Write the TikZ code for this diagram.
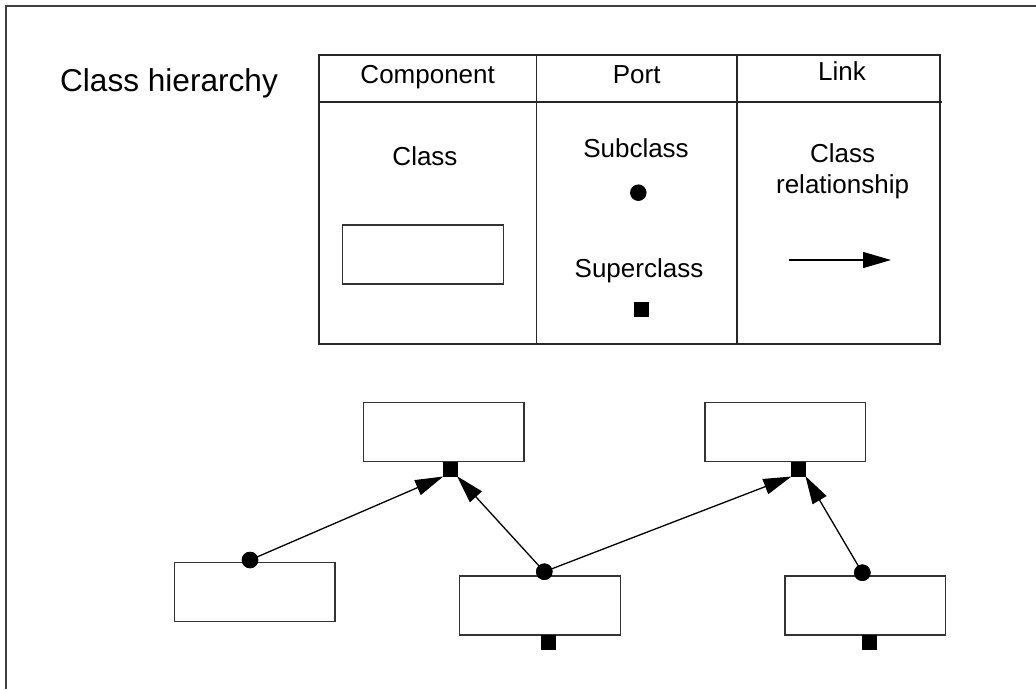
\documentclass[tikz,border=0pt]{standalone}
\usepackage{fontspec}
\setmainfont{Liberation Sans}
\usetikzlibrary{arrows.meta}

\tikzset{
  framepen/.style={draw=black!75, line width=1.6pt},
  tablepen/.style={draw=black!85, line width=1.6pt},
  label/.style={anchor=base, inner sep=0pt, font=\fontsize{26}{30.6}\selectfont},
  title/.style={anchor=base, inner sep=0pt, font=\fontsize{31.6}{36}\selectfont},
  classbox/.style={draw=black!80, line width=1.5pt, fill=white,
    minimum width=160.7pt, minimum height=59pt, inner sep=0pt},
  superport/.style={fill=black, inner sep=0pt, minimum size=15pt},
  subport/.style={circle, fill=black, inner sep=0pt, minimum size=16.5pt},
  link/.style={draw=black, line width=1.3pt,
    -{Triangle[length=28pt, width=16pt]}, shorten >=-1pt}
}

\begin{document}
\begin{tikzpicture}[x=1pt, y=-1pt]
  \useasboundingbox (0,0) rectangle (1036,689);

  % outer frame
  \draw[framepen] (6,689) -- (6,5.7) -- (1036,5.7);

  % title
  \node[title] (title) at (169,91) {Class hierarchy};

  % legend table
  \draw[tablepen] (319,55) rectangle (940,344);
  \draw[tablepen] (319,101.7) -- (942,101.7);
  \draw[tablepen] (536.5,55) -- (536.5,344);
  \draw[tablepen] (737,55) -- (737,344);

  \node[label] (hcomp) at (427.7,83.3) {Component};
  \node[label] (hport) at (636.7,83.3) {Port};
  \node[label] (hlink) at (842,80.5) {Link};

  % component column
  \node[label] (lclass) at (425,165) {Class};
  \node[classbox] (legbox) at (422.9,254.6) {};

  % port column
  \node[label] (lsub) at (636,157.7) {Subclass};
  \node[subport] (legdot) at (638.3,192.7) {};
  \node[label] (lsup) at (639,277.5) {Superclass};
  \node[superport] (legsq) at (641,309) {};

  % link column
  \node[label] (lrel1) at (842.6,162.7) {Class};
  \node[label] (lrel2) at (842.6,193.3) {relationship};
  \coordinate (legfrom) at (789,260);
  \coordinate (legto) at (891,260);
  \draw[link, shorten >=0pt] (legfrom) -- (legto);

  % example hierarchy: superclasses
  \node[classbox] (base1) at (443.7,432.2) {};
  \node[classbox] (base2) at (785.3,432.2) {};
  \node[superport] (sup1) at (450,469.2) {};
  \node[superport] (sup2) at (798.2,469.2) {};

  % subclasses
  \node[classbox] (sub1) at (254.7,592.2) {};
  \node[classbox] (sub2) at (540,605.5) {};
  \node[classbox] (sub3) at (865.3,605.5) {};
  \node[superport] (sup3) at (548.8,642.5) {};
  \node[superport] (sup4) at (869.8,642.5) {};
  \node[subport] (dot1) at (250,560) {};
  \node[subport] (dot2) at (544.3,571.7) {};
  \node[subport] (dot3) at (862.3,572.7) {};

  % class relationships
  \draw[link] (dot1.center) -- (sup1.south west);
  \draw[link] (dot2.center) -- (sup1.south east);
  \draw[link] (dot2.center) -- (sup2.south west);
  \draw[link] (dot3.center) -- (sup2.south east);

  % redraw the dots over the line ends
  \fill (dot1) circle (8.25pt);
  \fill (dot2) circle (8.25pt);
  \fill (dot3) circle (8.25pt);
\end{tikzpicture}
\end{document}
